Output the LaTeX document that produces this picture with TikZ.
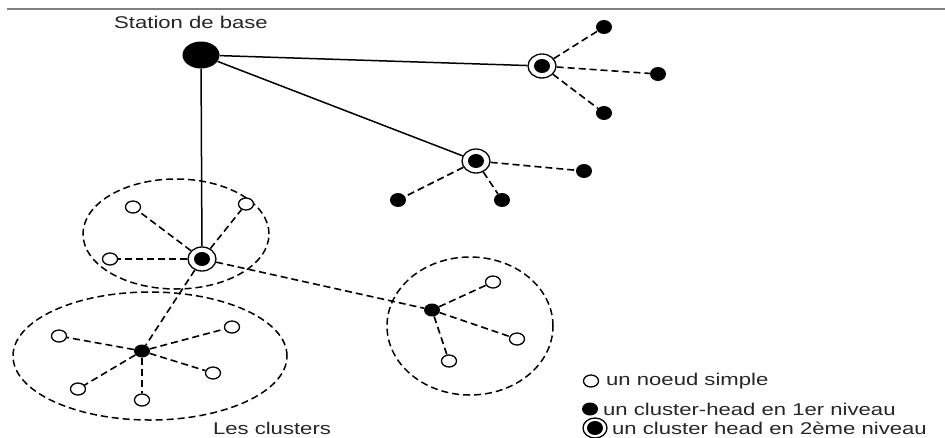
\documentclass[tikz,border=0pt]{standalone}
\usepackage{fontspec}
\setmainfont{Liberation Sans}[FakeStretch=1.3]
\usetikzlibrary{shapes.geometric}

\tikzset{
  lbl/.style={font=\fontsize{17}{20}\selectfont, text=black!85, inner sep=0pt},
  basest/.style={ellipse, fill=black, minimum width=37pt, minimum height=27pt, inner sep=0pt},
  simple/.style={ellipse, draw, fill=white, line width=1.3pt, minimum width=15pt, minimum height=12pt, inner sep=0pt},
  headone/.style={ellipse, fill=black, minimum width=16pt, minimum height=13pt, inner sep=0pt},
  leafblk/.style={ellipse, fill=black, minimum width=16pt, minimum height=14pt, inner sep=0pt},
  headtwo/.style={ellipse, draw, fill=white, line width=1.3pt, minimum width=28pt, minimum height=24pt, inner sep=0pt,
    path picture={\fill[black] (path picture bounding box.center) ellipse [x radius=8pt, y radius=7pt];}},
  link/.style={line width=1.5pt},
  dlink/.style={line width=1.6pt, dash pattern=on 7pt off 4pt},
  clusterline/.style={line width=1.5pt, dash pattern=on 7pt off 4pt},
}

\begin{document}
\begin{tikzpicture}[x=1pt, y=-1pt]
\useasboundingbox[fill=white] (0,0) rectangle (945,437);

% rule along the top
\draw[gray, line width=1.5pt] (7,9) -- (945,9);

% cluster boundaries
\draw[clusterline] (176,234) ellipse [x radius=93pt, y radius=55pt];
\draw[clusterline] (150,356) ellipse [x radius=137pt, y radius=64pt];
\draw[clusterline] (470,326) ellipse [x radius=83pt, y radius=69pt];

% base station and second-level heads
\node[basest] (bs) at (201,55) {};
\node[headtwo] (h2a) at (542,66) {};
\node[headtwo] (h2b) at (476,161) {};
\node[headtwo] (h2c) at (202,259) {};

% first-level heads
\node[headone] (h1a) at (142,351) {};
\node[headone] (h1b) at (432,310) {};

% black member nodes
\node[leafblk] (a1) at (604,27) {};
\node[leafblk] (a2) at (658,74) {};
\node[leafblk] (a3) at (604,113) {};
\node[leafblk] (b1) at (584,171) {};
\node[leafblk] (b2) at (398,200) {};
\node[leafblk] (b3) at (502,200) {};

% simple nodes
\node[simple] (c1) at (133,207) {};
\node[simple] (c2) at (246,204) {};
\node[simple] (c3) at (110,259) {};
\node[simple] (d1) at (59,336) {};
\node[simple] (d2) at (232,327) {};
\node[simple] (d3) at (213,373) {};
\node[simple] (d4) at (78,389) {};
\node[simple] (d5) at (142,400) {};
\node[simple] (e1) at (493,282) {};
\node[simple] (e2) at (517,339) {};
\node[simple] (e3) at (449,361) {};

% solid links to the base station
\draw[link] (bs) -- (h2a);
\draw[link] (bs) -- (h2b);
\draw[link] (bs) -- (h2c);

% dashed links
\foreach \t in {a1,a2,a3} \draw[dlink] (h2a) -- (\t);
\foreach \t in {b1,b2,b3} \draw[dlink] (h2b) -- (\t);
\foreach \t in {c1,c2,c3,h1a,h1b} \draw[dlink] (h2c) -- (\t);
\foreach \t in {d1,d2,d3,d4,d5} \draw[dlink] (h1a) -- (\t);
\foreach \t in {e1,e2,e3} \draw[dlink] (h1b) -- (\t);

% labels
\node[lbl] (tbs) at (191,22) {Station de base};
\node[lbl] (tcl) at (272,428) {Les clusters};

% legend
\node[simple] (ks) at (591,381) {};
\node[lbl, anchor=west] (kst) at (606,381) {un noeud simple};
\node[headone] (k1) at (590,409) {};
\node[lbl, anchor=west] (k1t) at (603,409) {un cluster-head en 1er niveau};
\node[headtwo, minimum width=24pt, minimum height=20pt] (k2) at (595,428) {};
\node[lbl, anchor=west] (k2t) at (612,428) {un cluster head en 2ème niveau};
\end{tikzpicture}
\end{document}
